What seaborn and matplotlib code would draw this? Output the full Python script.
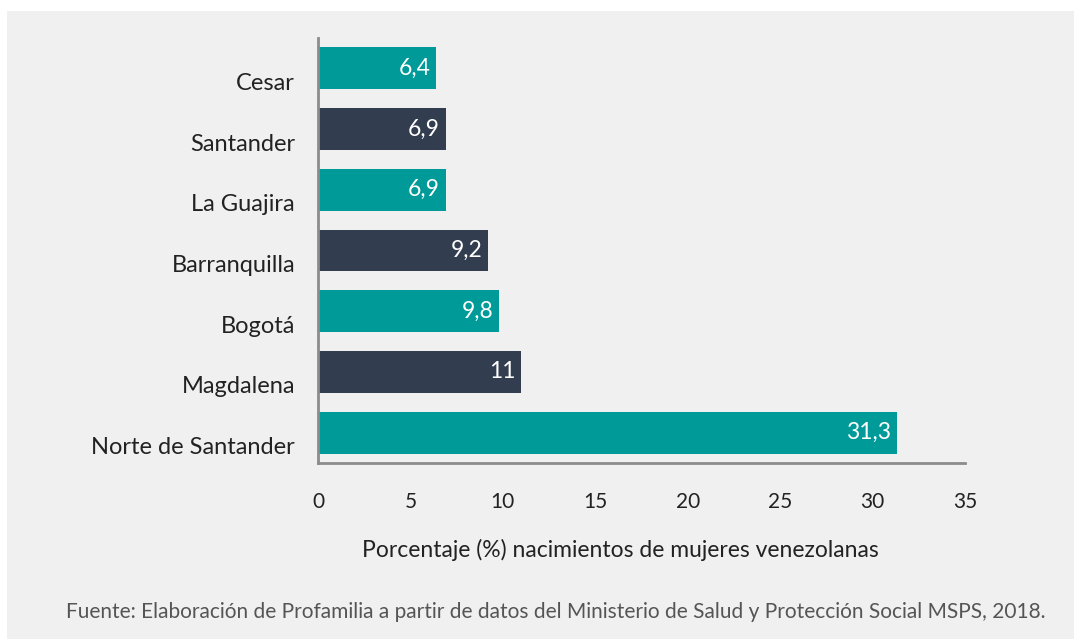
import matplotlib
matplotlib.use("Agg")

import pandas as pd
import matplotlib.pyplot as plt
import seaborn as sns
from matplotlib.patches import Rectangle
from matplotlib.transforms import ScaledTranslation

# ----------------------------------------------------------------------
# datos
# ----------------------------------------------------------------------
regiones = ["Cesar", "Santander", "La Guajira", "Barranquilla",
            "Bogotá", "Magdalena", "Norte de Santander"]
porcentajes = [6.4, 6.9, 6.9, 9.2, 9.8, 11, 31.3]
colores = ["#009a99", "#333d50", "#009a99", "#333d50",
           "#009a99", "#333d50", "#009a99"]
xticks = [0, 5, 10, 15, 20, 25, 30, 35]

xlabel = "Porcentaje (%) nacimientos de mujeres venezolanas"
fuente = ("Fuente: Elaboración de Profamilia a partir de datos del Ministerio "
          "de Salud y Protección Social MSPS, 2018.")

df = pd.DataFrame({"region": regiones, "valor": porcentajes})

# ----------------------------------------------------------------------
# estilo
# ----------------------------------------------------------------------
sns.set_theme(style="white")
plt.rcParams["font.family"] = ["Lato", "DejaVu Sans"]
plt.rcParams["font.weight"] = "normal"

TXT = "#222222"
GRIS = "#8c8c8c"
FONDO = "#f0f0f0"

fig = plt.figure(figsize=(10.74, 6.39), dpi=100, facecolor="white")
fig.patches.append(Rectangle((7 / 1074, 0), 1, 1 - 11 / 639,
                             transform=fig.transFigure, facecolor=FONDO,
                             edgecolor="none", zorder=-5))

ax = fig.add_axes([318 / 1074, 1 - 463 / 639, (965 - 318) / 1074, (463 - 38) / 639])
ax.set_facecolor("none")

sns.barplot(data=df, y="region", x="valor", hue="region", order=regiones,
            palette=colores, orient="h", width=0.69, legend=False,
            saturation=1, linewidth=0, ax=ax)

# etiquetas de valor dentro de la barra
for i, v in enumerate(porcentajes):
    etiqueta = (f"{v:g}").replace(".", ",")
    ax.text(v - 0.3, i, etiqueta, ha="right", va="center", color="white",
            fontsize=16.5)

ax.set_xlim(0, 35)
ax.set_ylim(6.5, -0.5)
ax.set_xticks(xticks)
ax.set_xticklabels([str(t) for t in xticks], fontsize=15, color=TXT)
ax.set_ylabel("")
ax.set_xlabel(xlabel, fontsize=16.5, color=TXT)
ax.xaxis.set_label_coords((620 - 318) / 647, -(550 - 463) / 425)
ax.xaxis.label.set_va("center")
ax.tick_params(axis="y", length=0, labelsize=17, labelcolor=TXT, pad=16.5)
ax.tick_params(axis="x", length=6, width=1.5, color=GRIS, direction="out", pad=15)

# las etiquetas de categoría quedan un poco por debajo del centro de la barra
desplazar = ScaledTranslation(0, -0.13, fig.dpi_scale_trans)
for lbl in ax.get_yticklabels():
    lbl.set_transform(lbl.get_transform() + desplazar)

for s in ["top", "right"]:
    ax.spines[s].set_visible(False)
for s in ["left", "bottom"]:
    ax.spines[s].set_color(GRIS)
    ax.spines[s].set_linewidth(2)

fig.text(556 / 1074, 1 - 612 / 639, fuente, ha="center", va="center",
         fontsize=15, color="#555555")

fig.savefig("out.png", dpi=100, facecolor="white")
